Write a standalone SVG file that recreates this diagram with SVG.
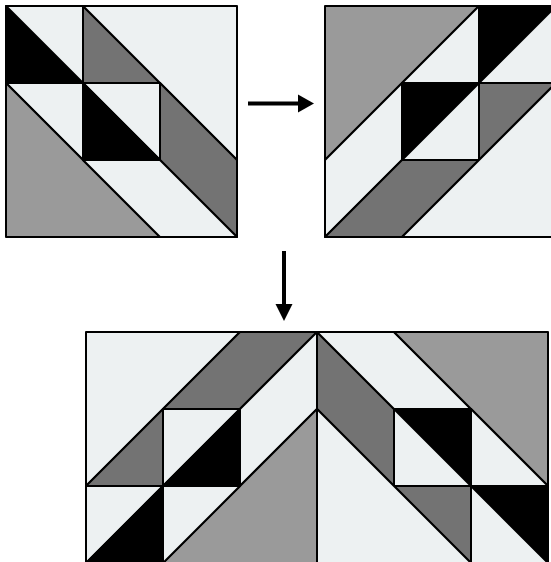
<svg xmlns="http://www.w3.org/2000/svg" width="551" height="562" viewBox="0 0 551 562">
<style>
polygon{stroke:#000;stroke-width:2;stroke-linejoin:round}
.l{fill:#EDF1F2}.m{fill:#9A9A9A}.d{fill:#737373}.k{fill:#000}
.arrow{fill:#000;stroke:none}
</style>
<rect width="551" height="562" fill="#fff"/>
<g id="block1">
<polygon class="k" points="6,6 6,83 83,83"/>
<polygon class="l" points="6,6 83,6 83,83"/>
<polygon class="d" points="83,6 83,83 160,83"/>
<polygon class="l" points="83,6 237,6 237,160"/>
<polygon class="d" points="160,83 237,160 237,237 160,160"/>
<polygon class="l" points="83,83 160,83 160,160"/>
<polygon class="k" points="83,83 83,160 160,160"/>
<polygon class="l" points="6,83 83,83 83,160"/>
<polygon class="m" points="6,83 6,237 160,237"/>
<polygon class="l" points="83,160 160,160 237,237 160,237"/>
</g>
<g id="block2">
<polygon class="m" points="325,6 479,6 325,160"/>
<polygon class="k" points="479,6 556,6 479,83"/>
<polygon class="l" points="556,6 556,83 479,83"/>
<polygon class="l" points="479,6 479,83 402,83"/>
<polygon class="k" points="402,83 479,83 402,160"/>
<polygon class="l" points="479,83 479,160 402,160"/>
<polygon class="d" points="556,83 479,83 479,160"/>
<polygon class="l" points="402,83 402,160 325,237 325,160"/>
<polygon class="d" points="479,160 402,237 325,237 402,160"/>
<polygon class="l" points="556,83 556,237 402,237"/>
</g>
<g id="block3-left">
<polygon class="l" points="86,332 240,332 86,486"/>
<polygon class="d" points="240,332 317,332 240,409 163,409"/>
<polygon class="d" points="163,409 163,486 86,486"/>
<polygon class="l" points="163,409 240,409 163,486"/>
<polygon class="k" points="240,409 240,486 163,486"/>
<polygon class="l" points="317,332 317,409 240,486 240,409"/>
<polygon class="m" points="317,409 317,563 163,563"/>
<polygon class="l" points="86,486 163,486 86,563"/>
<polygon class="k" points="163,486 163,563 86,563"/>
<polygon class="l" points="163,486 240,486 163,563"/>
</g>
<g id="block3-right">
<polygon class="d" points="317,332 394,409 394,486 317,409"/>
<polygon class="l" points="317,332 394,332 471,409 394,409"/>
<polygon class="m" points="394,332 548,332 548,486"/>
<polygon class="k" points="394,409 471,409 471,486"/>
<polygon class="l" points="394,409 394,486 471,486"/>
<polygon class="l" points="471,409 471,486 548,486"/>
<polygon class="k" points="471,486 548,486 548,563"/>
<polygon class="l" points="471,486 471,563 548,563"/>
<polygon class="d" points="394,486 471,486 471,563"/>
<polygon class="l" points="317,409 394,486 471,563 317,563"/>
</g>
<g id="connectors">
<g id="arrow-right">
<rect class="arrow" x="248" y="101.5" width="51" height="4"/>
<polygon class="arrow" points="298,94.5 314,103.5 298,112.5"/>
</g>
<g id="arrow-down">
<rect class="arrow" x="282" y="251" width="4" height="54"/>
<polygon class="arrow" points="275.5,304 292.5,304 284,321"/>
</g>
</g>
</svg>
